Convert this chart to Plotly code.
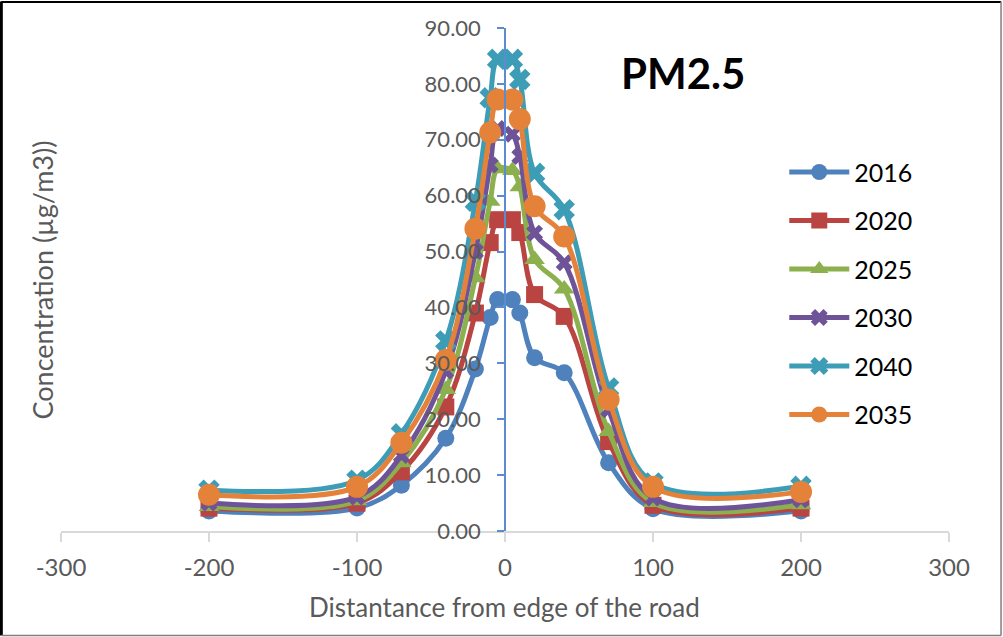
import plotly.graph_objects as go

# distance from edge of the road (m)
distance = [-200, -100, -70, -40, -20, -10, -5, 5, 10, 20, 40, 70, 100, 200]

years = ["2016", "2020", "2025", "2030", "2040", "2035"]

pm_2016 = [3.6, 4.1, 8.2, 16.6, 29.0, 38.2, 41.4, 41.4, 39.0, 31.0, 28.3, 12.2, 4.0, 3.6]
pm_2020 = [4.1, 5.0, 10.6, 22.2, 39.0, 51.6, 55.7, 55.7, 53.4, 42.3, 38.4, 16.0, 4.6, 4.1]
pm_2025 = [4.4, 5.4, 12.2, 25.3, 45.3, 59.0, 64.8, 64.5, 61.6, 48.6, 43.3, 17.8, 5.1, 4.7]
pm_2030 = [5.0, 6.1, 13.5, 28.6, 50.0, 65.5, 72.0, 71.0, 67.0, 53.3, 48.0, 21.7, 5.9, 5.6]
pm_2040 = [7.3, 9.1, 17.4, 34.0, 59.0, 77.5, 84.4, 84.4, 80.8, 64.0, 57.5, 25.6, 8.6, 8.0]
pm_2035 = [6.5, 7.9, 15.8, 30.6, 54.1, 71.3, 77.2, 77.2, 73.7, 58.1, 52.7, 23.5, 7.9, 7.0]

series = [pm_2016, pm_2020, pm_2025, pm_2030, pm_2040, pm_2035]
colors = ["#4F81BD", "#B94441", "#8DB04F", "#6E5399", "#3E9DB6", "#E4823A"]
symbols = ["circle", "square", "triangle-up", "x", "x", "circle"]
msizes = [17, 17, 18, 15, 19, 22]

x_ticks = [-300, -200, -100, 0, 100, 200, 300]
y_ticks = [0, 10, 20, 30, 40, 50, 60, 70, 80, 90]
y_ticklabels = ["%.2f" % v for v in y_ticks]

FONT = "Lato"

fig = go.Figure()
for name, vals, col, sym, ms in zip(years, series, colors, symbols, msizes):
    fig.add_trace(go.Scatter(
        x=distance, y=vals, name=name, mode="lines+markers",
        line=dict(color=col, width=5, shape="spline", smoothing=1.0),
        marker=dict(color=col, symbol=sym, size=ms, line=dict(width=0)),
        legendgroup=name,
    ))

fig.update_layout(
    width=1003, height=637,
    margin=dict(l=61, r=54, t=28, b=106),
    paper_bgcolor="white", plot_bgcolor="white",
    font=dict(family=FONT, color="#595959"),
    showlegend=True,
    legend=dict(
        x=0.8145, y=0.759, xanchor="left", yanchor="top",
        font=dict(family=FONT, size=25, color="black"),
        tracegroupgap=13, bgcolor="rgba(0,0,0,0)",
        traceorder="grouped", itemwidth=60,
    ),
    xaxis=dict(
        range=[-300, 300], tickvals=x_ticks, ticktext=[str(v) for v in x_ticks],
        showgrid=False, zeroline=False,
        showline=True, linecolor="#D9D9D9", linewidth=1.5,
        ticks="outside", ticklen=9, tickcolor="#D9D9D9", tickwidth=1.5,
        tickfont=dict(family=FONT, size=24, color="#595959"),
        ticklabelstandoff=5,
    ),
    yaxis=dict(
        range=[0, 90], tickvals=y_ticks, ticktext=y_ticklabels,
        showgrid=False, zeroline=False,
        anchor="free", position=0.5,
        showline=True, linecolor="#5B8BD0", linewidth=1.5,
        ticks="outside", ticklen=7, tickcolor="#5B8BD0", tickwidth=1.5,
        tickfont=dict(family=FONT, size=22, color="#595959"),
        ticklabelstandoff=12,
    ),
    annotations=[
        dict(text="<b>PM2.5</b>", x=0.7005, y=0.9105, xref="paper", yref="paper",
             showarrow=False, xanchor="center", yanchor="middle",
             font=dict(family=FONT, size=42, color="black")),
        dict(text="Concentration (µg/m3))",
             x=-0.0203, y=0.50, xref="paper", yref="paper",
             showarrow=False, xanchor="center", yanchor="middle", textangle=-90,
             font=dict(family=FONT, size=27, color="#595959")),
        dict(text="Distantance from edge of the road", x=0.4989, y=-0.151,
             xref="paper", yref="paper",
             showarrow=False, xanchor="center", yanchor="middle",
             font=dict(family=FONT, size=26, color="#595959")),
    ],
    shapes=[
        dict(type="line", xref="paper", yref="paper", x0=-0.0672, x1=-0.0672,
             y0=-0.2078, y1=1.0527, line=dict(color="black", width=3)),
        dict(type="line", xref="paper", yref="paper", x0=-0.0672, x1=1.0586,
             y0=1.0517, y1=1.0517, line=dict(color="black", width=2)),
        dict(type="line", xref="paper", yref="paper", x0=1.0586, x1=1.0586,
             y0=-0.2078, y1=1.0527, line=dict(color="#7F7F7F", width=1.5)),
        dict(type="line", xref="paper", yref="paper", x0=-0.0672, x1=1.0586,
             y0=-0.2078, y1=-0.2078, line=dict(color="#7F7F7F", width=1.5)),
    ],
)

fig.write_html("out.html")
